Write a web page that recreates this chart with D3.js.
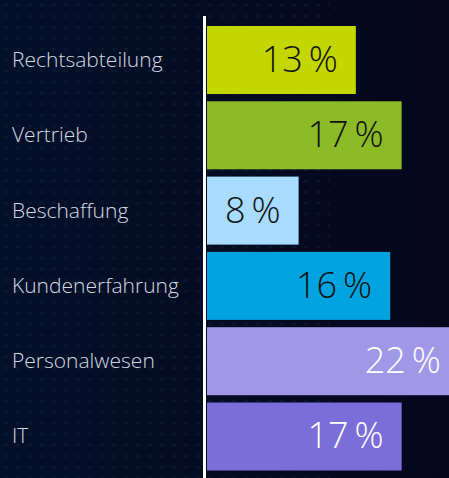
<!DOCTYPE html>
<html>
<head>
<meta charset="utf-8">
<script src="https://cdn.jsdelivr.net/npm/d3@7"></script>
<style>
  body { margin: 0; background: #050a22; }
  svg { display: block; }
</style>
</head>
<body>
<div id="chart"></div>
<script>
// data
const categories = ["Rechtsabteilung", "Vertrieb", "Beschaffung", "Kundenerfahrung", "Personalwesen", "IT"];
const values = [13, 17, 8, 16, 22, 17];
const barColors = ["#c4d600", "#8cbb28", "#a8dcff", "#00a3df", "#a098e6", "#7c6ed8"];
const textColors = ["#111111", "#111111", "#111111", "#111111", "#ffffff", "#ffffff"];

const svgWidth = 449;
const svgHeight = 478;
const margin = { top: 26, left: 207 };
const step = 75.3;
const pad = 0.097;

const svg = d3.select("#chart")
  .append("svg")
  .attr("width", svgWidth)
  .attr("height", svgHeight);

// background gradient + dotted texture
const defs = svg.append("defs");
const grad = defs.append("linearGradient").attr("id", "bg").attr("x1", 0).attr("x2", 1).attr("y1", 0).attr("y2", 0);
grad.append("stop").attr("offset", "0%").attr("stop-color", "#03102a");
grad.append("stop").attr("offset", "100%").attr("stop-color", "#05061c");
const pat = defs.append("pattern").attr("id", "dots")
  .attr("width", 12).attr("height", 11).attr("patternUnits", "userSpaceOnUse");
pat.append("ellipse").attr("cx", 6).attr("cy", 5).attr("rx", 2.5).attr("ry", 1.6)
  .attr("fill", "#0c2a3a").attr("opacity", 0.55);

svg.append("rect").attr("width", svgWidth).attr("height", svgHeight).attr("fill", "url(#bg)");
svg.append("rect").attr("width", 330).attr("height", svgHeight).attr("fill", "url(#dots)").attr("opacity", 0.6);

// scales
const x = d3.scaleLinear().domain([0, 1]).range([0, 11.45]);
const y = d3.scaleBand()
  .domain(categories)
  .range([margin.top, margin.top + step * (categories.length - pad)])
  .paddingInner(pad)
  .paddingOuter(0);

const chartGroup = svg.append("g");

// bars
chartGroup.selectAll("rect.bar")
  .data(values)
  .enter()
  .append("rect")
  .attr("class", "bar")
  .attr("x", margin.left)
  .attr("y", (d, i) => y(categories[i]))
  .attr("width", d => x(d))
  .attr("height", y.bandwidth())
  .attr("fill", (d, i) => barColors[i]);

// value labels
chartGroup.selectAll("text.value")
  .data(values)
  .enter()
  .append("text")
  .attr("class", "value")
  .attr("x", d => margin.left + x(d) - 18)
  .attr("y", (d, i) => y(categories[i]) + y.bandwidth() / 2 + 12)
  .attr("text-anchor", "end")
  .style("font-family", "'Open Sans', sans-serif")
  .style("font-weight", 300)
  .style("font-size", "36px")
  .attr("fill", (d, i) => textColors[i])
  .text(d => d + "\u2009%");

// category labels
chartGroup.selectAll("text.cat")
  .data(categories)
  .enter()
  .append("text")
  .attr("class", "cat")
  .attr("x", 12)
  .attr("y", d => y(d) + y.bandwidth() / 2 + 7)
  .style("font-family", "'Open Sans', sans-serif")
  .style("font-weight", 300)
  .style("font-size", "21px")
  .attr("fill", "#d6d9e0")
  .text(d => d);

// axis line
chartGroup.append("line")
  .attr("x1", 204.5).attr("x2", 204.5)
  .attr("y1", 16).attr("y2", svgHeight)
  .attr("stroke", "#ffffff")
  .attr("stroke-width", 3);
</script>
</body>
</html>
